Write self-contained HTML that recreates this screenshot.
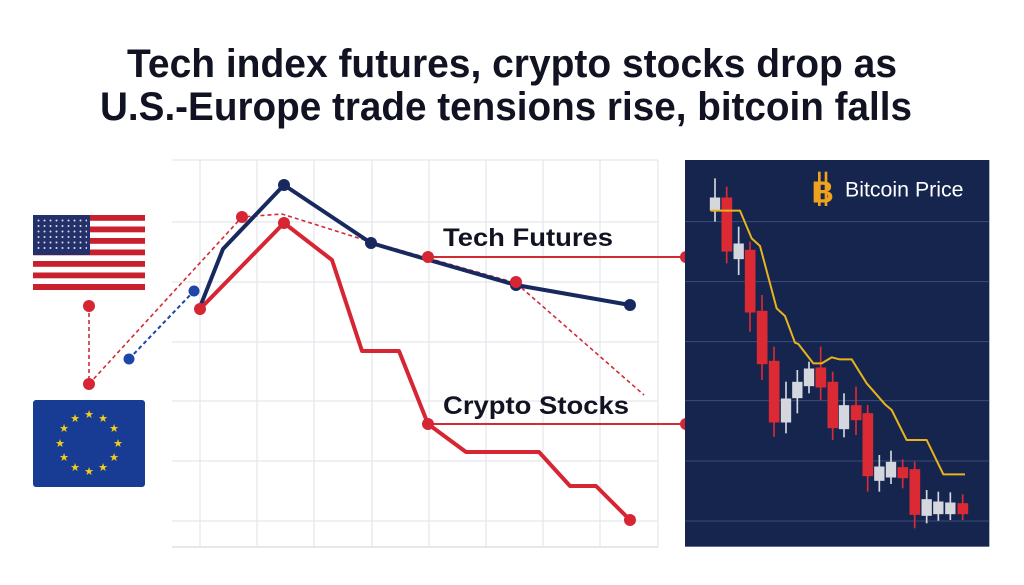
<!DOCTYPE html>
<html><head><meta charset="utf-8"><style>
html,body{margin:0;padding:0;background:#fff;}
svg{display:block;}
</style></head><body>
<svg width="1024" height="585" viewBox="0 0 1024 585" xmlns="http://www.w3.org/2000/svg">
<rect width="1024" height="585" fill="#fff"/>
<g font-family="'Liberation Sans Narrow','Liberation Sans',sans-serif" font-weight="bold" fill="#111322" font-size="40" text-anchor="start">
<text x="127" y="77" textLength="770" lengthAdjust="spacingAndGlyphs">Tech index futures, crypto stocks drop as</text>
<text x="100" y="120" textLength="812" lengthAdjust="spacingAndGlyphs">U.S.-Europe trade tensions rise, bitcoin falls</text>
</g>
<!-- left grid -->
<g stroke="#e4e7ee" stroke-width="1.3">
<line x1="172" y1="160" x2="658" y2="160"/>
<line x1="172" y1="222" x2="658" y2="222"/>
<line x1="172" y1="282" x2="658" y2="282"/>
<line x1="172" y1="342" x2="658" y2="342"/>
<line x1="172" y1="401" x2="658" y2="401"/>
<line x1="172" y1="461" x2="658" y2="461"/>
<line x1="172" y1="521" x2="658" y2="521"/>
<line x1="172" y1="547" x2="658" y2="547" stroke="#d8dbe3"/>
<line x1="200" y1="160" x2="200" y2="547"/>
<line x1="257" y1="160" x2="257" y2="547"/>
<line x1="314" y1="160" x2="314" y2="547"/>
<line x1="372" y1="160" x2="372" y2="547"/>
<line x1="429" y1="160" x2="429" y2="547"/>
<line x1="486" y1="160" x2="486" y2="547"/>
<line x1="543" y1="160" x2="543" y2="547"/>
<line x1="600" y1="160" x2="600" y2="547"/>
<line x1="658" y1="160" x2="658" y2="547"/>
</g>
<!-- US flag -->
<g>
<rect x="33" y="215" width="112" height="75" fill="#fff" rx="2"/>
<g fill="#c8202c">
<rect x="33" y="215" width="112" height="5.8"/><rect x="33" y="226.5" width="112" height="5.8"/><rect x="33" y="238" width="112" height="5.8"/><rect x="33" y="249.5" width="112" height="5.8"/><rect x="33" y="261" width="112" height="5.8"/><rect x="33" y="272.5" width="112" height="5.8"/><rect x="33" y="284" width="112" height="6"/>
</g>
<rect x="33" y="215" width="57" height="40" fill="#24306a"/>
<g fill="#fff" opacity="0.85">
<rect x="36" y="218" width="51" height="34" fill="url(#stars)"/>
</g>
</g>
<defs>
<pattern id="stars" width="6" height="5.5" patternUnits="userSpaceOnUse" x="36" y="218"><circle cx="2.5" cy="2.5" r="1" fill="#fff"/></pattern>
</defs>
<!-- EU flag -->
<rect x="33" y="400" width="112" height="87" fill="#183c94" rx="3"/>
<g fill="#f4cf1a" font-size="11" text-anchor="middle" font-family="'DejaVu Sans',sans-serif">
<text x="89" y="418">★</text><text x="103" y="422">★</text><text x="114" y="432">★</text><text x="118" y="447">★</text><text x="114" y="461">★</text><text x="103" y="471">★</text><text x="89" y="475">★</text><text x="75" y="471">★</text><text x="64" y="461">★</text><text x="60" y="447">★</text><text x="64" y="432">★</text><text x="75" y="422">★</text>
</g>
<!-- dashed -->
<g fill="none" stroke-dasharray="4,3" stroke-width="1.6">
<polyline points="89,306 89,384" stroke="#d22b35"/>
<polyline points="89,384 242,217 282,214 371,242 516,283 644,395" stroke="#d22b35"/>
<polyline points="129,359 194,291" stroke="#1e46a8" stroke-width="2"/>
</g>
<!-- connector lines -->
<g stroke="#d22b35" stroke-width="2">
<line x1="428" y1="257" x2="686" y2="257"/>
<line x1="428" y1="424" x2="686" y2="424"/>
</g>
<!-- tech futures -->
<polyline points="200,307 223,249 284,185 371,243 429,260 516,285 630,305" fill="none" stroke="#17295e" stroke-width="4" stroke-linejoin="round"/>
<!-- crypto -->
<polyline points="200,309 284,223 332,260 362,351 399,351 428,424 466,452 539,452 570,486 596,486 630,520" fill="none" stroke="#d62633" stroke-width="4" stroke-linejoin="round"/>
<g fill="#17295e">
<circle cx="284" cy="185" r="6"/><circle cx="371" cy="243" r="6"/><circle cx="516" cy="285" r="6"/><circle cx="630" cy="305" r="6"/>
</g>
<circle cx="129" cy="359" r="5.5" fill="#1e46a8"/><circle cx="194" cy="291" r="5.5" fill="#1e46a8"/>
<g fill="#d62633">
<circle cx="89" cy="306" r="6"/><circle cx="89" cy="384" r="6"/><circle cx="242" cy="217" r="6"/><circle cx="284" cy="223" r="6"/><circle cx="200" cy="309" r="6"/><circle cx="428" cy="257" r="6"/><circle cx="516" cy="282" r="6"/><circle cx="428" cy="424" r="6"/><circle cx="630" cy="520" r="6"/><circle cx="686" cy="257" r="6"/><circle cx="686" cy="424" r="6"/>
</g>
<g font-family="'Liberation Sans Narrow','Liberation Sans',sans-serif" font-weight="bold" fill="#111322" font-size="25">
<text x="443" y="246" textLength="170" lengthAdjust="spacingAndGlyphs">Tech Futures</text>
<text x="443" y="414" textLength="186" lengthAdjust="spacingAndGlyphs">Crypto Stocks</text>
</g>
<!-- right panel -->
<svg x="680" y="160" width="320" height="390" viewBox="0 0 960 1170">
<rect x="15" y="0" width="913" height="1160" fill="#15254e"/>
<g stroke="#3a4c7a" stroke-width="3">
<line x1="15" y1="185" x2="928" y2="185"/><line x1="15" y1="365" x2="928" y2="365"/><line x1="15" y1="545" x2="928" y2="545"/><line x1="15" y1="722" x2="928" y2="722"/><line x1="15" y1="903" x2="928" y2="903"/><line x1="15" y1="1083" x2="928" y2="1083"/>
</g>
<g stroke-width="5">
<!-- candles: x, body top, body bottom, wick top, wick bottom -->
<g stroke="#d4d7de" fill="#d4d7de">
<line x1="105" y1="55" x2="105" y2="185"/><rect x="92" y="115" width="26" height="35"/>
<line x1="176" y1="200" x2="176" y2="345"/><rect x="163" y="253" width="26" height="42"/>
<line x1="318" y1="665" x2="318" y2="820"/><rect x="305" y="718" width="26" height="67"/>
<line x1="352" y1="630" x2="352" y2="760"/><rect x="339" y="668" width="26" height="44"/>
<line x1="387" y1="605" x2="387" y2="700"/><rect x="374" y="628" width="26" height="48"/>
<line x1="492" y1="700" x2="492" y2="832"/><rect x="479" y="738" width="26" height="67"/>
<line x1="598" y1="885" x2="598" y2="995"/><rect x="585" y="922" width="26" height="38"/>
<line x1="633" y1="872" x2="633" y2="972"/><rect x="620" y="908" width="26" height="42"/>
<line x1="740" y1="990" x2="740" y2="1090"/><rect x="727" y="1020" width="26" height="45"/>
<line x1="775" y1="995" x2="775" y2="1082"/><rect x="762" y="1027" width="26" height="33"/>
<line x1="811" y1="997" x2="811" y2="1080"/><rect x="798" y="1030" width="26" height="30"/>
</g>
<g stroke="#dc2a34" fill="#dc2a34">
<line x1="140" y1="80" x2="140" y2="310"/><rect x="127" y="115" width="27" height="157"/>
<line x1="210" y1="245" x2="210" y2="515"/><rect x="197" y="272" width="27" height="183"/>
<line x1="246" y1="405" x2="246" y2="660"/><rect x="233" y="455" width="27" height="155"/>
<line x1="282" y1="560" x2="282" y2="830"/><rect x="269" y="605" width="27" height="180"/>
<line x1="422" y1="560" x2="422" y2="720"/><rect x="409" y="625" width="27" height="55"/>
<line x1="458" y1="635" x2="458" y2="840"/><rect x="445" y="668" width="27" height="134"/>
<line x1="528" y1="680" x2="528" y2="825"/><rect x="515" y="738" width="27" height="40"/>
<line x1="563" y1="735" x2="563" y2="995"/><rect x="550" y="762" width="27" height="184"/>
<line x1="668" y1="898" x2="668" y2="985"/><rect x="655" y="924" width="27" height="28"/>
<line x1="704" y1="905" x2="704" y2="1105"/><rect x="691" y="930" width="27" height="132"/>
<line x1="848" y1="1003" x2="848" y2="1080"/><rect x="835" y="1032" width="27" height="28"/>
</g>
</g>
<polyline points="92,152 180,152 215,235 240,258 290,445 315,468 345,548 355,552 400,610 425,610 455,592 478,598 515,598 560,670 615,733 635,750 680,840 740,840 790,943 855,943" fill="none" stroke="#e7b41c" stroke-width="6" stroke-linejoin="round"/>
<text x="395" y="127" font-family="'Liberation Sans',sans-serif" font-weight="bold" font-size="92" fill="#f0a21e">B</text>
<line x1="418" y1="35" x2="418" y2="138" stroke="#f0a21e" stroke-width="8"/><line x1="438" y1="35" x2="438" y2="138" stroke="#f0a21e" stroke-width="8"/>
<text x="495" y="110" font-family="'Liberation Sans',sans-serif" font-size="64" fill="#ffffff">Bitcoin Price</text>
</svg>
</svg>
</body></html>
